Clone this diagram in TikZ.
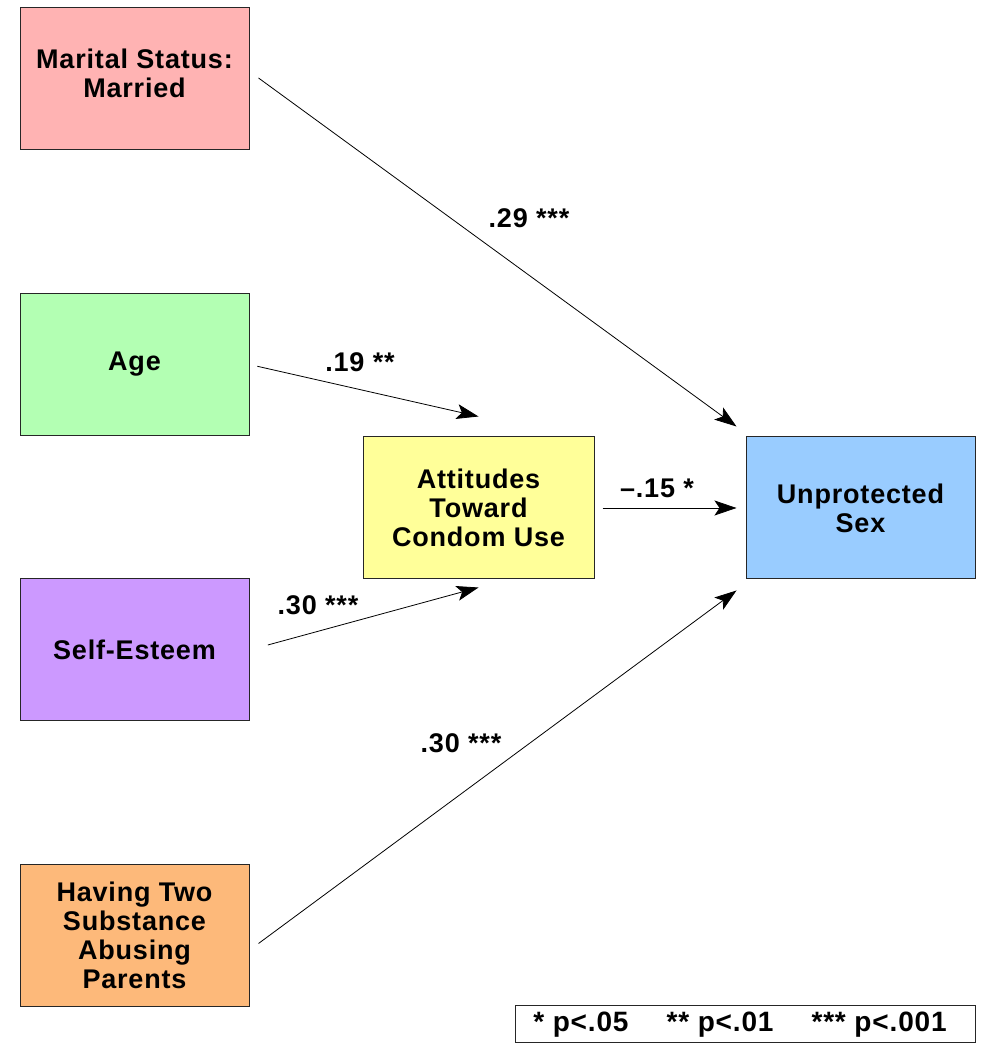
\documentclass[tikz,border=0pt]{standalone}
\usepackage{fontspec}
\setmainfont{Liberation Sans}
\usetikzlibrary{arrows.meta}
\definecolor{pinkbox}{RGB}{255,179,179}
\definecolor{greenbox}{RGB}{179,255,179}
\definecolor{purplebox}{RGB}{204,153,255}
\definecolor{orangebox}{RGB}{253,185,122}
\definecolor{yellowbox}{RGB}{255,255,153}
\definecolor{bluebox}{RGB}{153,204,255}
\begin{document}
\begin{tikzpicture}[x=1pt,y=1pt,
box/.style={draw=black!85,line width=1pt,minimum width=229pt,minimum height=142pt,
align=center,inner sep=0pt,font=\fontsize{27}{29}\selectfont\bfseries\addfontfeature{LetterSpace=3}},
arr/.style={line width=0.8pt,-{Stealth[length=22pt,width=15pt,inset=5pt]}},
lbl/.style={inner sep=0pt,font=\fontsize{27}{29}\selectfont\bfseries\addfontfeature{LetterSpace=3}}]
\useasboundingbox (0,0) rectangle (994,1050);
\node[box,fill=pinkbox] (marital) at (134.5,971) {Marital Status:\\Married\\[-17pt]};
\node[box,fill=greenbox] (age) at (134.5,685.5) {Age};
\node[box,fill=purplebox] (self) at (134.5,400) {Self-Esteem};
\node[box,fill=orangebox] (having) at (134.5,114.5) {Having Two\\Substance\\Abusing\\Parents};
\node[box,fill=yellowbox,minimum width=231pt] (att) at (478.5,542) {Attitudes\\Toward\\Condom Use};
\node[box,fill=bluebox] (unprot) at (860.5,542) {Unprotected\\Sex};
\coordinate (marOut) at ([shift={(9,1)}]marital.east);
\coordinate (unprotIn1) at ([shift={(-9,10)}]unprot.north west);
\coordinate (attIn1) at ([yshift=20pt]att.north);
\coordinate (attIn2) at ([yshift=-8pt]att.south);
\coordinate (havOut) at ([shift={(9,-8)}]having.east);
\coordinate (unprotIn2) at ([shift={(-9,-11)}]unprot.south west);
\draw[arr] (marOut) -- (unprotIn1);
\draw[arr,shorten <=8pt] (age.east) -- (attIn1);
\draw[arr,shorten <=19pt] (self.east) -- (attIn2);
\draw[arr] (havOut) -- (unprotIn2);
\draw[arr,shorten <=8pt,shorten >=9pt] (att.east) -- (unprot.west);
\node[lbl] (l29) at (529,832) {.29 ***};
\node[lbl] (l19) at (360,688) {.19 **};
\node[lbl] (l30a) at (318,445) {.30 ***};
\node[lbl] (l30b) at (461,307) {.30 ***};
\node[lbl] (l15) at (657,562) {--.15 *};
\node[draw=black!85,line width=1pt,minimum width=460pt,minimum height=37pt,inner sep=0pt,
font=\fontsize{28}{30}\selectfont\bfseries\addfontfeature{LetterSpace=3}] (legend) at (745,25.5)
{\hspace{-10pt}* p<.05\hspace{38pt}** p<.01\hspace{38pt}*** p<.001};
\end{tikzpicture}
\end{document}
